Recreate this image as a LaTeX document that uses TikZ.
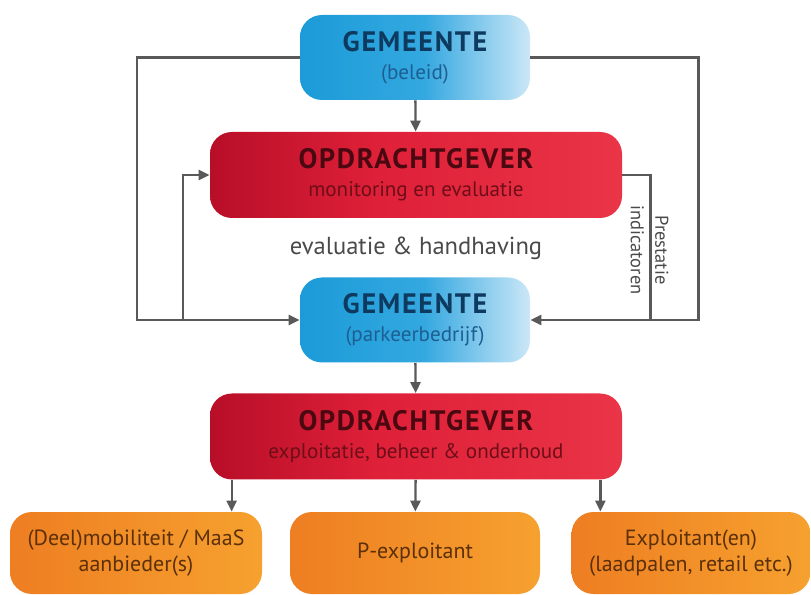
\documentclass[tikz,border=0pt]{standalone}
\usepackage{fontspec}
\setmainfont{PT Sans}
\newfontfamily\kopfont{PT Sans}[LetterSpace=6]
\usetikzlibrary{arrows.meta}
\definecolor{gemblue}{HTML}{1B9BD8}
\definecolor{gemmid}{HTML}{34A8E0}
\definecolor{gemlight}{HTML}{CBE7F7}
\definecolor{gemtext}{HTML}{0E3A60}
\definecolor{gemsub}{HTML}{1D5F92}
\definecolor{opddark}{HTML}{B80E28}
\definecolor{opdred}{HTML}{DE2038}
\definecolor{opdlight}{HTML}{EA3447}
\definecolor{opdtext}{HTML}{4A0810}
\definecolor{opdsub}{HTML}{6E0E18}
\definecolor{orgdark}{HTML}{EE7E22}
\definecolor{orglight}{HTML}{F6A12F}
\definecolor{orgtext}{HTML}{5C3008}
\definecolor{linegray}{HTML}{595959}
\definecolor{labelgray}{HTML}{4A4A4A}
\pgfdeclarehorizontalshading{gemshade}{100bp}{color(0bp)=(gemblue); color(25bp)=(gemblue); color(52bp)=(gemmid); color(75bp)=(gemlight); color(100bp)=(gemlight)}
\pgfdeclarehorizontalshading{opdshade}{100bp}{color(0bp)=(opddark); color(25bp)=(opddark); color(45bp)=(opdred); color(75bp)=(opdlight); color(100bp)=(opdlight)}
\pgfdeclarehorizontalshading{orgshade}{100bp}{color(0bp)=(orgdark); color(25bp)=(orgdark); color(75bp)=(orglight); color(100bp)=(orglight)}
\begin{document}
\begin{tikzpicture}[
	every node/.style={align=center, inner sep=0pt},
	box/.style={rectangle, rounded corners=4.4mm},
	gem/.style={box, shading=gemshade, minimum width=4.6cm, minimum height=1.7cm, text=gemsub, font=\fontsize{12}{14}\selectfont},
	opd/.style={box, shading=opdshade, minimum width=8.24cm, minimum height=1.72cm, text=opdsub, font=\fontsize{12}{14}\selectfont},
	org/.style={box, shading=orgshade, minimum height=1.64cm, text=orgtext, font=\fontsize{12.5}{15}\selectfont},
	conn/.style={draw=linegray, line width=1.3pt},
	tip/.style={-{Triangle[length=2.2mm, width=2mm]}},
]
\useasboundingbox (0,0) rectangle (16.22,-11.9);
% blokken
\node [gem] (gemBeleid) at (8.3,-1.15) {{\kopfont\fontsize{16}{18}\selectfont\bfseries\color{gemtext}GEMEENTE}\\[2pt](beleid)};
\node [opd] (opdMonitor) at (8.32,-3.5) {{\kopfont\fontsize{16}{18}\selectfont\bfseries\color{opdtext}OPDRACHTGEVER}\\[2pt]monitoring en evaluatie};
\node [text=labelgray, font=\fontsize{14}{16}\selectfont] (evalLabel) at (8.32,-4.96) {evaluatie \& handhaving};
\node [gem] (gemParkeer) at (8.3,-6.4) {{\kopfont\fontsize{16}{18}\selectfont\bfseries\color{gemtext}GEMEENTE}\\[2pt](parkeerbedrijf)};
\node [opd] (opdExploit) at (8.32,-8.73) {{\kopfont\fontsize{16}{18}\selectfont\bfseries\color{opdtext}OPDRACHTGEVER}\\[2pt]exploitatie, beheer \& onderhoud};
\node [org, minimum width=5.04cm] (deelMob) at (2.72,-11.06) {(Deel)mobiliteit / MaaS\\aanbieder(s)};
\node [org, minimum width=5cm] (pExpl) at (8.3,-11.06) {P-exploitant};
\node [org, minimum width=4.78cm] (exploitant) at (13.82,-11.06) {Exploitant(en)\\(laadpalen, retail etc.)};

% verbindingen
\draw [conn, tip] (gemBeleid) -- (opdMonitor);
\draw [conn, tip] (gemParkeer) -- (opdExploit);
\draw [conn, tip] (gemBeleid.west) -- ++(-3.26,0) |- (gemParkeer.west);
\draw [conn, tip] (gemBeleid.east) -- ++(3.36,0) |- (gemParkeer.east);
\coordinate (links) at (3.66,-6.4);
\draw [conn, tip] (links) |- (opdMonitor.west);
\draw [conn] (opdMonitor.east) -- ++(0.56,0) coordinate (rechts) -- (rechts |- gemParkeer.east);
\node [rotate=-90, text=labelgray, font=\fontsize{10.5}{14}\selectfont] (prestLabel) at (12.99,-5.0) {Prestatie\\indicatoren};
\coordinate (a1) at ([xshift=0.44cm]opdExploit.south west);
\coordinate (a3) at ([xshift=-0.44cm]opdExploit.south east);
\draw [conn, tip] (a1) -- (a1 |- deelMob.north);
\draw [conn, tip] (opdExploit) -- (pExpl);
\draw [conn, tip] (a3) -- (a3 |- exploitant.north);
\end{tikzpicture}
\end{document}
